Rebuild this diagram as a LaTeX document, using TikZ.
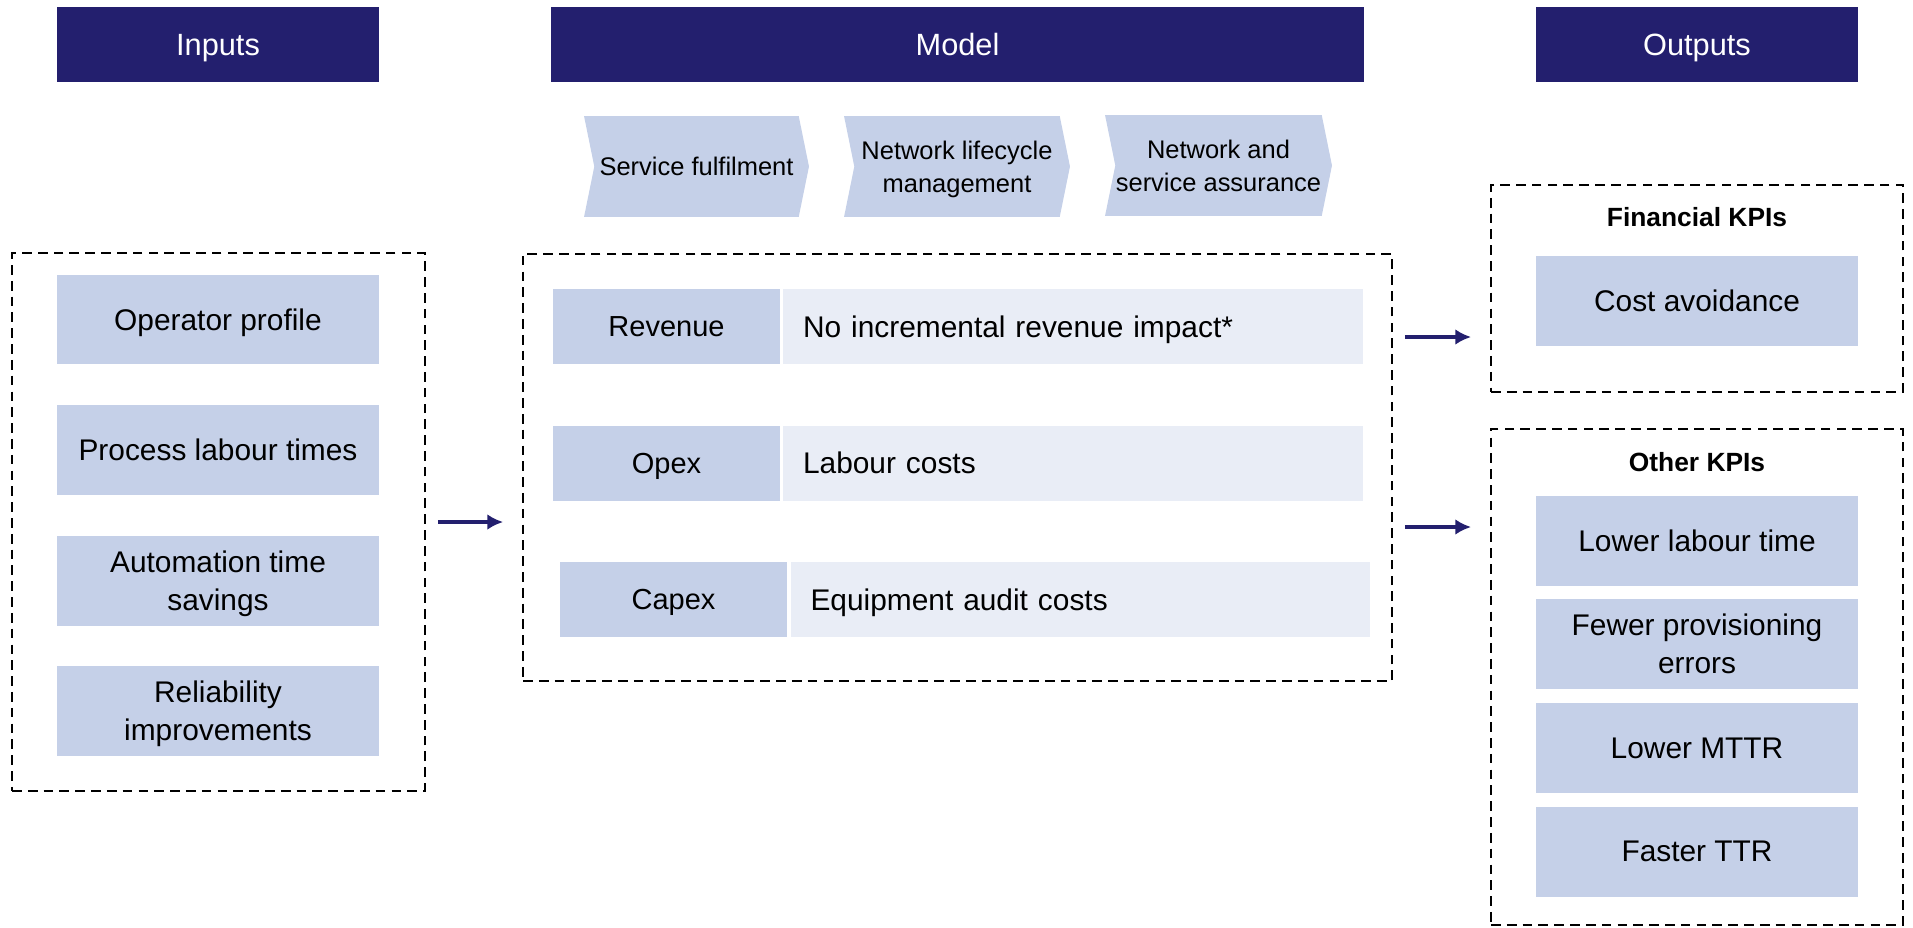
\documentclass[tikz,border=0pt]{standalone}
\usepackage{fontspec}
\setmainfont{Liberation Sans}
\usetikzlibrary{positioning,arrows,arrows.meta,calc,shapes}
\definecolor{navy}{RGB}{35,31,110}
\definecolor{paleblue}{RGB}{197,208,232}
\definecolor{paleface}{RGB}{233,237,246}
\tikzset{
    header/.style = {
        shape=rectangle,
        fill=navy,
        text=white,
        minimum height=1.5cm,
        minimum width=6.44cm,
        inner sep=0pt,
        text depth=0pt,
        font=\fontsize{17.5}{20}\selectfont
    },
    item/.style = {
        shape=rectangle,
        fill=paleblue,
        minimum height=1.8cm,
        minimum width=6.44cm,
        inner sep=0pt,
        text depth=-1pt,
        align=center,
        font=\fontsize{17}{21.5}\selectfont
    },
    stage/.style = {
        shape=signal,
        signal from=west,
        signal to=east,
        signal pointer angle=157,
        fill=paleblue,
        minimum height=2.02cm,
        minimum width=4.5cm,
        inner sep=0pt,
        text depth=-1pt,
        align=center,
        font=\fontsize{14.5}{18.7}\selectfont
    },
    group/.style = {
        draw,
        shape=rectangle,
        line width=1.1pt,
        dash pattern=on 5.5pt off 3.5pt,
        inner sep=0pt
    },
    costtype/.style = {
        shape=rectangle,
        fill=paleblue,
        minimum height=1.5cm,
        minimum width=4.54cm,
        inner sep=0pt,
        text depth=-1pt,
        font=\fontsize{16.5}{20}\selectfont
    },
    costitem/.style = {
        shape=rectangle,
        fill=paleface,
        minimum height=1.5cm,
        text width=10.8cm,
        inner xsep=0.4cm,
        inner ysep=0pt,
        text depth=-1pt,
        align=left,
        font=\fontsize{17}{20}\selectfont
    },
    heading/.style = {
        text depth=0pt,
        font=\fontsize{15}{18}\selectfont\bfseries
    },
    flow/.style = {
        draw=navy,
        line width=2.6pt,
        ->,
        shorten <=0.24cm,
        shorten >=0.38cm
    },
    >={Latex[length=9pt,width=9pt]},
}

\begin{document}
\begin{tikzpicture}[x=0.02cm, y=-0.02cm]
    \useasboundingbox (0,0) rectangle (1913,927);

    \node[header] (inhead) at (218,44.5) {Inputs};
    \node[header, minimum width=16.26cm] (modhead) at (957.5,44.5) {Model};
    \node[header] (outhead) at (1697,44.5) {Outputs};

    \node[stage] (fulfil) at (696.5,166.5) {Service fulfilment};
    \node[stage, minimum width=4.52cm] (lifecycle) at (957,166.5) {Network lifecycle\\management};
    \node[stage, minimum width=4.54cm] (assure) at (1218.5,165.5) {Network and\\service assurance};

    \node[group, minimum width=8.26cm, minimum height=10.76cm] (inputs) at (218.5,522) {};
    \node[item] (profile) at (218,319.5) {Operator profile};
    \node[item] (labour) at (218,450) {Process labour times};
    \node[item] (saving) at (218,581) {Automation time\\savings};
    \node[item] (reliab) at (218,711) {Reliability\\improvements};

    \node[group, minimum width=17.38cm, minimum height=8.54cm] (model) at (957.5,467.5) {};
    \node[costtype] (revenue) at (666.5,326.5) {Revenue};
    \node[costitem] (revval) at (1073,326.5) {No incremental revenue impact*};
    \node[costtype] (opex) at (666.5,463) {Opex};
    \node[costitem] (opexval) at (1073,463) {Labour costs};
    \node[costtype] (capex) at (673.5,599.5) {Capex};
    \node[costitem] (capexval) at (1080.5,599.5) {Equipment audit costs};

    \node[group, minimum width=8.24cm, minimum height=4.14cm] (finbox) at (1697,288.5) {};
    \node[heading] (fintitle) at (1697,217) {Financial KPIs};
    \node[item] (avoid) at (1697,301) {Cost avoidance};

    \node[group, minimum width=8.24cm, minimum height=9.92cm] (otherbox) at (1697,677) {};
    \node[heading] (othertitle) at (1697,462) {Other KPIs};
    \node[item] (lowtime) at (1697,540.5) {Lower labour time};
    \node[item] (fewerr) at (1697,643.5) {Fewer provisioning\\errors};
    \node[item] (mttr) at (1697,748) {Lower MTTR};
    \node[item] (ttr) at (1697,851.5) {Faster TTR};

    \coordinate (tofin) at (1440,337);
    \coordinate (toother) at (1440,527);
    \path[flow] (inputs.east) -- (inputs.east -| model.west);
    \path[flow] (model.east |- tofin) -- (finbox.west |- tofin);
    \path[flow] (model.east |- toother) -- (otherbox.west |- toother);
\end{tikzpicture}
\end{document}
